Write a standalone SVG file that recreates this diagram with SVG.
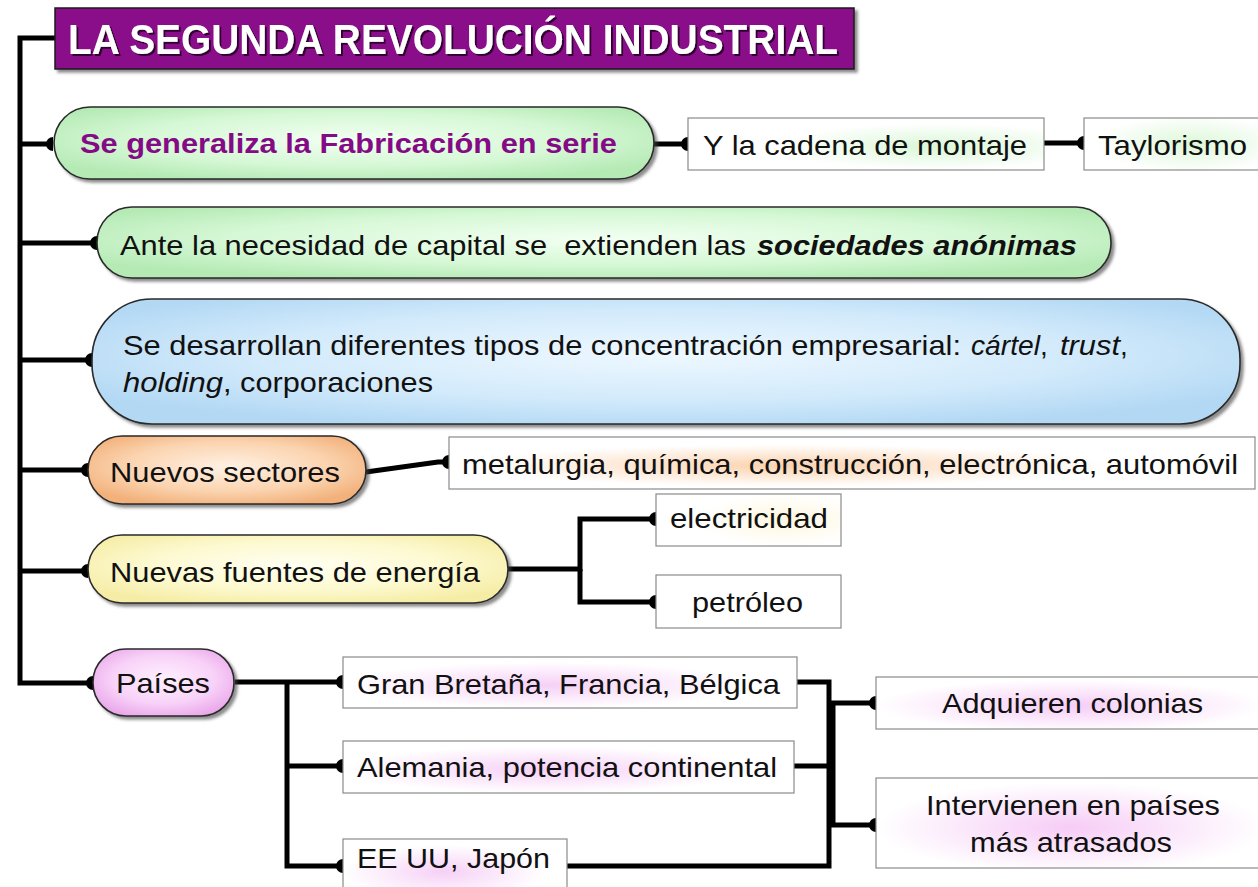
<svg xmlns="http://www.w3.org/2000/svg" width="1258" height="887" viewBox="0 0 1258 887">
<defs>
<style>
.t{font-family:"Liberation Sans",Arial,sans-serif;font-size:28px;fill:#111;}
.b{font-weight:bold;}
.i{font-style:italic;}
.pill{stroke:#2a2a2a;stroke-width:1.6;filter:url(#sh);}
.box{stroke:#8a8a8a;stroke-width:1.2;}
.con{fill:none;stroke:#000;stroke-width:5;stroke-linejoin:miter;}
.mk{marker-end:url(#half);}
</style>
<filter id="sh" x="-5%" y="-10%" width="115%" height="130%">
<feDropShadow dx="3" dy="3" stdDeviation="1.5" flood-color="#404040" flood-opacity="0.6"/>
</filter>
<filter id="tsh" x="-5%" y="-20%" width="110%" height="150%">
<feDropShadow dx="2" dy="2" stdDeviation="0.6" flood-color="#2a002a" flood-opacity="0.9"/>
</filter>
<marker id="half" viewBox="-8 -8 16 16" markerWidth="16" markerHeight="16" refX="0" refY="0" orient="auto" markerUnits="userSpaceOnUse">
<path d="M0,-7 A7,7 0 0 0 0,7 Z" fill="#000"/>
</marker>
<radialGradient id="gGreen" cx="50%" cy="45%" r="60%"><stop offset="0" stop-color="#f2fff2"/><stop offset="0.6" stop-color="#d6f8d6"/><stop offset="1" stop-color="#b5eab5"/></radialGradient>
<radialGradient id="gBlue" cx="50%" cy="45%" r="60%"><stop offset="0" stop-color="#eef8ff"/><stop offset="0.6" stop-color="#d2eafb"/><stop offset="1" stop-color="#b2d8f4"/></radialGradient>
<radialGradient id="gOrange" cx="50%" cy="45%" r="60%"><stop offset="0" stop-color="#fff1e4"/><stop offset="0.6" stop-color="#fbd4b0"/><stop offset="1" stop-color="#f2b07a"/></radialGradient>
<radialGradient id="gYellow" cx="50%" cy="45%" r="60%"><stop offset="0" stop-color="#fffff2"/><stop offset="0.6" stop-color="#fdf9cf"/><stop offset="1" stop-color="#f5eda6"/></radialGradient>
<radialGradient id="gPink" cx="50%" cy="45%" r="60%"><stop offset="0" stop-color="#fff0ff"/><stop offset="0.6" stop-color="#f8d2f8"/><stop offset="1" stop-color="#eaa8ea"/></radialGradient>
<radialGradient id="bGreenR" cx="70%" cy="55%" r="45%"><stop offset="0" stop-color="#d9f7d6"/><stop offset="1" stop-color="#ffffff"/></radialGradient>
<radialGradient id="bGreenC" cx="60%" cy="50%" r="55%"><stop offset="0" stop-color="#dcf8d8"/><stop offset="1" stop-color="#ffffff"/></radialGradient>
<radialGradient id="bOrange" cx="42%" cy="55%" r="40%"><stop offset="0" stop-color="#fbd2ad"/><stop offset="1" stop-color="#ffffff"/></radialGradient>
<radialGradient id="bYellow" cx="70%" cy="50%" r="50%"><stop offset="0" stop-color="#fdf7df"/><stop offset="1" stop-color="#ffffff"/></radialGradient>
<radialGradient id="bPink" cx="45%" cy="55%" r="45%"><stop offset="0" stop-color="#f6d0f6"/><stop offset="1" stop-color="#ffffff"/></radialGradient>
<radialGradient id="bPinkC" cx="50%" cy="55%" r="50%"><stop offset="0" stop-color="#f6ccf6"/><stop offset="1" stop-color="#ffffff"/></radialGradient>
</defs>
<rect width="1258" height="887" fill="#fff"/>

<g id="connectors">
<path class="con" d="M55,38 H20 V683 H92"/>
<path class="con mk" d="M92,683 H93"/>
<path class="con mk" d="M20,144 H53"/>
<path class="con mk" d="M20,243 H97"/>
<path class="con mk" d="M20,360 H92"/>
<path class="con mk" d="M20,470 H88"/>
<path class="con mk" d="M20,571 H88"/>
<path class="con mk" d="M653,144 H688"/>
<path class="con mk" d="M1044,143 H1084"/>
<path class="con mk" d="M366,472 L438,462 H449"/>
<path class="con mk" d="M508,569 H580 V519 H656"/>
<path class="con mk" d="M580,569 V602 H656"/>
<path class="con mk" d="M235,682 H343"/>
<path class="con mk" d="M287,682 V866 H343"/>
<path class="con mk" d="M287,766 H343"/>
<path class="con" d="M797,682 H829 V866 H567"/>
<path class="con" d="M793,766 H829"/>
<path class="con" d="M833,703 V825"/>
<path class="con mk" d="M829,703 H876"/>
<path class="con mk" d="M829,825 H876"/>
</g>

<g id="title">
<rect x="55" y="8" width="799" height="61" fill="#8a0d8a" stroke="#1a1a1a" stroke-width="1.5" filter="url(#sh)"/>
<text class="t b" x="68" y="54" style="font-size:42px;fill:#fff" textLength="770" lengthAdjust="spacingAndGlyphs" filter="url(#tsh)">LA SEGUNDA REVOLUCIÓN INDUSTRIAL</text>
</g>

<g id="n-fabricacion">
<rect class="pill" x="54" y="107" width="600" height="72" rx="36" fill="url(#gGreen)"/>
<text class="t b" x="80" y="153" style="fill:#850a85" textLength="537" lengthAdjust="spacingAndGlyphs">Se generaliza la Fabricación en serie</text>
</g>

<g id="n-cadena">
<rect class="box" x="688" y="118" width="356" height="52" fill="url(#bGreenR)"/>
<text class="t" x="703" y="155" textLength="324" lengthAdjust="spacingAndGlyphs">Y la cadena de montaje</text>
</g>

<g id="n-taylorismo">
<rect class="box" x="1084" y="118" width="180" height="52" fill="url(#bGreenC)"/>
<text class="t" x="1098" y="155" textLength="149" lengthAdjust="spacingAndGlyphs">Taylorismo</text>
</g>

<g id="n-sociedades">
<rect class="pill" x="97" y="207" width="1014" height="71" rx="35" fill="url(#gGreen)"/>
<text class="t" x="120" y="255" style="white-space:pre" textLength="626" lengthAdjust="spacingAndGlyphs">Ante la necesidad de capital se  extienden las</text>
<text class="t b i" x="757" y="255" textLength="320" lengthAdjust="spacingAndGlyphs">sociedades anónimas</text>
</g>

<g id="n-concentracion">
<rect class="pill" x="92" y="299" width="1148" height="125" rx="60" fill="url(#gBlue)"/>
<text class="t" x="123" y="355" textLength="838" lengthAdjust="spacingAndGlyphs">Se desarrollan diferentes tipos de concentración empresarial:</text>
<text class="t i" x="971" y="355" textLength="69" lengthAdjust="spacingAndGlyphs">cártel</text>
<text class="t" x="1040" y="355">,</text>
<text class="t i" x="1060" y="355" textLength="60" lengthAdjust="spacingAndGlyphs">trust</text>
<text class="t" x="1120" y="355">,</text>
<text class="t i" x="123" y="392" textLength="100" lengthAdjust="spacingAndGlyphs">holding</text>
<text class="t" x="223" y="392" textLength="210" lengthAdjust="spacingAndGlyphs">, corporaciones</text>
</g>

<g id="n-sectores">
<rect class="pill" x="88" y="436" width="278" height="68" rx="34" fill="url(#gOrange)"/>
<text class="t" x="110" y="482" textLength="230" lengthAdjust="spacingAndGlyphs">Nuevos sectores</text>
</g>

<g id="n-metalurgia">
<rect class="box" x="449" y="437" width="806" height="52" fill="url(#bOrange)"/>
<text class="t" x="462" y="474" textLength="776" lengthAdjust="spacingAndGlyphs">metalurgia, química, construcción, electrónica, automóvil</text>
</g>

<g id="n-energia">
<rect class="pill" x="88" y="535" width="420" height="68" rx="34" fill="url(#gYellow)"/>
<text class="t" x="110" y="582" textLength="370" lengthAdjust="spacingAndGlyphs">Nuevas fuentes de energía</text>
</g>

<g id="n-electricidad">
<rect class="box" x="656" y="494" width="185" height="52" fill="url(#bYellow)"/>
<text class="t" x="670" y="528" textLength="158" lengthAdjust="spacingAndGlyphs">electricidad</text>
</g>

<g id="n-petroleo">
<rect class="box" x="656" y="575" width="185" height="53" fill="#fff"/>
<text class="t" x="692" y="612" textLength="111" lengthAdjust="spacingAndGlyphs">petróleo</text>
</g>

<g id="n-paises">
<rect class="pill" x="93" y="649" width="141" height="67" rx="33" fill="url(#gPink)"/>
<text class="t" x="116" y="693" textLength="94" lengthAdjust="spacingAndGlyphs">Países</text>
</g>

<g id="n-gb">
<rect class="box" x="343" y="657" width="454" height="51" fill="url(#bPink)"/>
<text class="t" x="357" y="694" textLength="423" lengthAdjust="spacingAndGlyphs">Gran Bretaña, Francia, Bélgica</text>
</g>

<g id="n-alemania">
<rect class="box" x="343" y="741" width="451" height="52" fill="url(#bPink)"/>
<text class="t" x="357" y="777" textLength="420" lengthAdjust="spacingAndGlyphs">Alemania, potencia continental</text>
</g>

<g id="n-eeuu">
<rect class="box" x="343" y="839" width="224" height="60" fill="url(#bPink)"/>
<text class="t" x="357" y="868" textLength="193" lengthAdjust="spacingAndGlyphs">EE UU, Japón</text>
</g>

<g id="n-colonias">
<rect class="box" x="876" y="677" width="390" height="52" fill="url(#bPinkC)"/>
<text class="t" x="942" y="713" textLength="261" lengthAdjust="spacingAndGlyphs">Adquieren colonias</text>
</g>

<g id="n-intervienen">
<rect class="box" x="876" y="778" width="390" height="90" fill="url(#bPinkC)"/>
<text class="t" x="926" y="815" textLength="294" lengthAdjust="spacingAndGlyphs">Intervienen en países</text>
<text class="t" x="970" y="852" textLength="202" lengthAdjust="spacingAndGlyphs">más atrasados</text>
</g>
</svg>
